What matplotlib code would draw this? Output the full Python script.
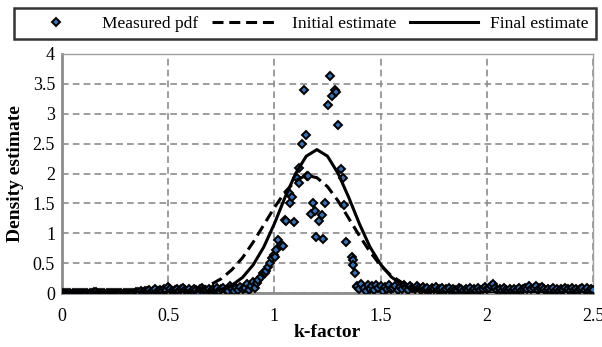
import matplotlib.pyplot as plt
import numpy as np

plt.rcParams['font.family'] = ['Liberation Serif', 'DejaVu Serif']

# Measured pdf - flat part at the left (k = 0.00 ... 0.34, step 0.01)
k_left = np.round(np.arange(0, 35) * 0.01, 2)
pdf_left = [0.0, 0.0, 0.0, 0.0, 0.0, 0.0, 0.0, 0.0, 0.0, 0.0,
            0.0, 0.0, 0.0, 0.0, 0.0, 0.01, 0.02, 0.0, 0.0, 0.0,
            0.0, 0.0, 0.0, 0.0, 0.0, 0.0, 0.0, 0.0, 0.0, 0.0,
            0.0, 0.0, 0.0, 0.0, 0.0]

# Measured pdf - low noisy part (k = 0.35 ... 0.85)
k_low = np.round(0.35 + np.arange(0, 51) * 0.01, 2)
pdf_low = [0.02, 0.01, 0.03, 0.02, 0.04, 0.03, 0.05, 0.02, 0.04, 0.06,
           0.03, 0.05, 0.04, 0.07, 0.05, 0.10, 0.06, 0.03, 0.05, 0.07,
           0.04, 0.06, 0.08, 0.05, 0.03, 0.06, 0.04, 0.07, 0.05, 0.02,
           0.06, 0.08, 0.05, 0.03, 0.06, 0.04, 0.07, 0.05, 0.08, 0.03,
           0.06, 0.09, 0.05, 0.04, 0.11, 0.07, 0.03, 0.08, 0.05, 0.10,
           0.06]

# Measured pdf - peak region
k_peak = [0.86, 0.87, 0.88, 0.89, 0.90, 0.91, 0.92, 0.924, 0.937, 0.948,
          0.956, 0.96, 0.971, 0.979, 0.987, 0.998, 1.003, 1.007, 1.018, 1.031,
          1.039, 1.05, 1.055, 1.07, 1.073, 1.081, 1.094, 1.108, 1.114, 1.117,
          1.128, 1.141, 1.149, 1.155, 1.16, 1.171, 1.18, 1.191, 1.196, 1.212,
          1.223, 1.23, 1.238, 1.251, 1.262, 1.271, 1.285, 1.29, 1.298, 1.312,
          1.325, 1.328, 1.337, 1.364, 1.369, 1.371, 1.379, 1.387]
pdf_peak = [0.08, 0.15, 0.05, 0.12, 0.18, 0.09, 0.16, 0.22, 0.27, 0.33,
            0.33, 0.37, 0.44, 0.50, 0.58, 0.64, 0.61, 0.72, 0.89, 0.80,
            0.78, 1.22, 1.21, 1.67, 1.51, 1.61, 1.18, 1.92, 1.84, 2.09,
            2.49, 3.39, 2.64, 1.96, 1.95, 1.33, 1.50, 1.38, 0.93, 1.21,
            1.31, 0.90, 1.50, 3.15, 3.63, 3.29, 3.40, 3.37, 2.81, 2.07,
            1.92, 1.47, 0.85, 0.61, 0.55, 0.47, 0.33, 0.10]

# Measured pdf - right tail (k = 1.39 ... 2.50)
k_right = np.round(1.39 + np.arange(0, 112) * 0.01, 2)
pdf_right = [0.12, 0.06, 0.15, 0.09, 0.04, 0.13, 0.07, 0.11, 0.05, 0.14,
             0.08, 0.12, 0.04, 0.10, 0.07, 0.13, 0.06, 0.09, 0.11, 0.05,
             0.10, 0.07, 0.13, 0.08, 0.05, 0.11, 0.09, 0.06, 0.12, 0.08,
             0.05, 0.10, 0.07, 0.09, 0.04, 0.08, 0.06, 0.10, 0.05, 0.07,
             0.09, 0.04, 0.06, 0.08, 0.03, 0.07, 0.05, 0.04, 0.08, 0.06,
             0.03, 0.07, 0.05, 0.09, 0.04, 0.06, 0.03, 0.08, 0.05, 0.07,
             0.10, 0.06, 0.08, 0.12, 0.15, 0.09, 0.05, 0.07, 0.04, 0.08,
             0.05, 0.03, 0.06, 0.04, 0.07, 0.05, 0.08, 0.04, 0.06, 0.09,
             0.07, 0.11, 0.06, 0.09, 0.12, 0.05, 0.08, 0.10, 0.06, 0.04,
             0.07, 0.05, 0.08, 0.03, 0.06, 0.04, 0.07, 0.05, 0.09, 0.06,
             0.04, 0.08, 0.05, 0.07, 0.03, 0.06, 0.09, 0.05, 0.08, 0.04,
             0.07, 0.05]

# Initial estimate curve
k_init = [0.0, 0.45, 0.5, 0.55, 0.6, 0.65, 0.7, 0.75, 0.8, 0.85, 0.9, 0.95,
          1.0, 1.05, 1.1, 1.15, 1.2, 1.25, 1.3, 1.35, 1.4, 1.45, 1.5, 1.55,
          1.6, 1.65, 1.7, 1.75, 1.8, 1.85, 1.9, 2.5]
pdf_init = [0.0, 0.003, 0.008, 0.019, 0.039, 0.076, 0.14, 0.24, 0.39, 0.59,
            0.85, 1.14, 1.43, 1.69, 1.88, 1.97, 1.93, 1.78, 1.54, 1.25,
            0.96, 0.69, 0.46, 0.29, 0.175, 0.098, 0.051, 0.025, 0.012, 0.005,
            0.002, 0.0]

# Final estimate curve
k_final = [0.0, 0.55, 0.6, 0.65, 0.7, 0.75, 0.8, 0.85, 0.9, 0.95, 1.0, 1.05,
           1.1, 1.15, 1.2, 1.25, 1.3, 1.35, 1.4, 1.45, 1.5, 1.55, 1.6, 1.65,
           1.7, 1.75, 1.8, 1.85, 2.5]
pdf_final = [0.0, 0.001, 0.004, 0.010, 0.026, 0.06, 0.13, 0.26, 0.47, 0.77,
             1.16, 1.60, 2.00, 2.29, 2.40, 2.29, 2.00, 1.60, 1.16, 0.77,
             0.48, 0.27, 0.14, 0.065, 0.03, 0.012, 0.005, 0.002, 0.0]

k_meas = np.concatenate([k_left, k_low, k_peak, k_right])
pdf_meas = np.concatenate([pdf_left, pdf_low, pdf_peak, pdf_right])

fig = plt.figure(figsize=(6.02, 3.47), dpi=100)
ax = fig.add_axes([62 / 602, 1 - 293 / 347, 531 / 602, 239 / 347])

ax.plot(k_meas, pdf_meas, linestyle='none', marker='D', markersize=4,
        markerfacecolor='#3a70b0', markeredgecolor='black', markeredgewidth=1.4,
        label='Measured pdf', zorder=3)
ax.plot(k_init, pdf_init, color='black', lw=2.2, linestyle=(0, (3.6, 1.9)),
        label='Initial estimate', zorder=4)
ax.plot(k_final, pdf_final, color='black', lw=2.2, label='Final estimate', zorder=4)

ax.set_xlim(0, 2.5)
ax.set_ylim(0, 4)
ax.set_xticks([0, 0.5, 1, 1.5, 2, 2.5])
ax.set_xticklabels(['0', '0.5', '1', '1.5', '2', '2.5'])
ax.set_yticks([0, 0.5, 1, 1.5, 2, 2.5, 3, 3.5, 4])
ax.set_yticklabels(['0', '0.5', '1', '1.5', '2', '2.5', '3', '3.5', '4'])
ax.tick_params(length=0, labelsize=13)
ax.tick_params(axis='x', pad=11)
ax.tick_params(axis='y', pad=5)
ax.grid(True, color='#8c8c8c', linestyle=(0, (4, 2.5)), lw=1.2)
ax.set_axisbelow(True)
for side in ['left', 'bottom']:
    ax.spines[side].set_color('#8c8c8c')
    ax.spines[side].set_linewidth(2)
for side in ['top', 'right']:
    ax.spines[side].set_color('#a0a0a0')
    ax.spines[side].set_linewidth(1)

ax.set_xlabel('k-factor', fontsize=14, fontweight='bold', labelpad=-1)
ax.set_ylabel('Density estimate', fontsize=14, fontweight='bold', labelpad=6)

leg = fig.legend(loc='center', bbox_to_anchor=(305 / 602, 1 - 23.5 / 347),
                 ncol=3, frameon=True, fancybox=False,
                 edgecolor='black', fontsize=12.5, handlelength=3.9,
                 handletextpad=0.7, columnspacing=0.8, borderpad=0.45,
                 borderaxespad=0)
leg.get_frame().set_linewidth(1.8)

fig.savefig('out.png', dpi=100)
